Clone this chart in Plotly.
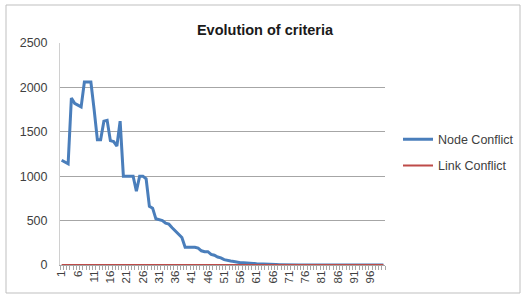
import plotly.graph_objects as go

categories = list(range(1, 101))
node_conflict = [1180, 1160, 1140, 1880, 1820, 1800, 1780, 2060, 2060, 2060,
                 1750, 1410, 1410, 1620, 1630, 1400, 1390, 1340, 1620, 1000,
                 1000, 1000, 1000, 830, 1000, 1000, 970, 660, 640, 520,
                 510, 500, 470, 460, 420, 380, 340, 310, 200, 200,
                 200, 200, 190, 160, 150, 150, 120, 110, 90, 80,
                 60, 50, 45, 40, 30, 25, 25, 20, 20, 18,
                 15, 12, 10, 8, 7, 6, 5, 4, 2, 0] + [0] * 30
link_conflict = [0] * 100
tick_labels = [str(v) for v in range(1, 100, 5)]
tick_positions = list(range(1, 100, 5))

fig = go.Figure()
fig.add_trace(go.Scatter(x=categories, y=node_conflict, mode="lines", name="Node Conflict",
                         line=dict(color="#4A7EBB", width=3), legendgroup="a"))
fig.add_trace(go.Scatter(x=categories, y=link_conflict, mode="lines", name="Link Conflict",
                         line=dict(color="#BE4B48", width=2), legendgroup="b"))

fig.update_layout(
    width=521, height=295,
    margin=dict(l=60, r=136, t=43, b=30, autoexpand=False),
    paper_bgcolor="white", plot_bgcolor="white",
    font=dict(family="Liberation Sans, Arial, sans-serif", size=10, color="#404040"),
    title=dict(text="<b>Evolution of criteria</b>", x=265 / 521, xref="container", xanchor="center",
               y=1 - 30 / 295, yref="container", yanchor="middle",
               font=dict(size=14.5, color="#1a1a1a")),
    showlegend=True,
    legend=dict(x=1.04, y=0.506, xanchor="left", yanchor="middle",
                font=dict(size=12.5, color="#404040"), traceorder="grouped",
                tracegroupgap=7, itemwidth=30, bgcolor="rgba(0,0,0,0)"),
    xaxis=dict(range=[0.5, 100.5], tickmode="array", tickvals=tick_positions, ticktext=tick_labels,
               tickangle=-90, ticks="", showgrid=False, zeroline=False,
               showline=True, linecolor="#A6A6A6", linewidth=1,
               tickfont=dict(size=11.5, color="#404040"),
               minor=dict(tickmode="array", tickvals=[i + 0.5 for i in range(0, 101)],
                          ticks="outside", ticklen=4, tickcolor="#A6A6A6", showgrid=False)),
    yaxis=dict(range=[0, 2500], tickmode="array", tickvals=[0, 500, 1000, 1500, 2000, 2500],
               showgrid=True, gridcolor="#A6A6A6", gridwidth=1, zeroline=False,
               showline=True, linecolor="#D0D0D0", linewidth=1, ticks="",
               ticklabelstandoff=9, tickfont=dict(size=12.5, color="#404040")),
    shapes=[dict(type="rect", xref="paper", yref="paper",
                 x0=(6 - 60) / 325, x1=(520 - 60) / 325,
                 y0=(265 - 293) / 222, y1=(265 - 5) / 222,
                 line=dict(color="#BFBFBF", width=1), fillcolor="rgba(0,0,0,0)", layer="below")],
)

fig.write_html("out.html", config={"displayModeBar": False},
               post_script="document.body.style.margin='0';")
